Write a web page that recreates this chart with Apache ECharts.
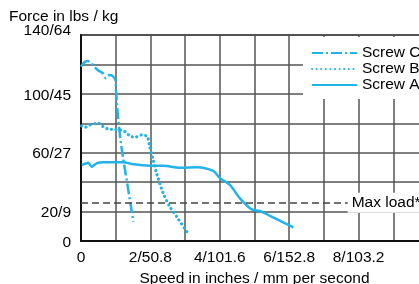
<!DOCTYPE html>
<html><head><meta charset="utf-8">
<script src="https://cdn.jsdelivr.net/npm/echarts@6/dist/echarts.min.js"></script>
<style>html,body{margin:0;padding:0;background:#fff}#c{width:419px;height:284px}</style>
</head><body><div id="c"></div>
<script>
// Data (speed in inches/s, force in lbs)
const screwA = [[0.02,51.7],[0.16,52.8],[0.21,53.2],[0.31,50.5],[0.45,52.8],[0.64,53.5],[1.22,53.5],[1.51,52.1],[1.99,51.2],[2.37,51.2],[2.85,49.8],[3.33,50.1],[3.81,47.6],[4.01,42.6],[4.29,38.1],[4.58,29.0],[4.92,21.5],[5.16,20.4],[5.45,17.0],[6.12,9.3]];
const screwB = [[0.02,78.2],[0.12,77.3],[0.26,78.9],[0.5,80.0],[0.64,77.7],[0.79,76.1],[0.93,75.9],[1.12,75.5],[1.27,74.3],[1.41,71.4],[1.56,70.5],[1.75,72.1],[1.91,70.9],[1.97,65.3],[2.08,55.1],[2.18,46.0],[2.37,32.4],[2.56,23.3],[2.76,16.5],[3.05,6.3]];
const screwC = [[0.0,118.5],[0.1,121.5],[0.19,122.4],[0.29,120.8],[0.38,118.5],[0.48,116.2],[0.63,114.0],[0.72,110.6],[0.82,112.8],[0.91,112.2],[0.99,109.4],[1.01,101.5],[1.08,81.1],[1.17,63.2],[1.34,38.0],[1.51,13.1]];
const maxLoad = 26;
const maxLoadLabelX = 7.8;
const xTickLabels = {0:'0',2:'2/50.8',4:'4/101.6',6:'6/152.8',8:'8/103.2'};
const yTickLabels = {0:'0',20:'20/9',60:'60/27',100:'100/45',140:'140/64'};
const seriesNames = ['Screw C','Screw B','Screw A'];

const FONT = 'Liberation Sans';
const BLUE = '#22b3e8';
const TXT = '#000';
const chart = echarts.init(document.getElementById('c'), null, {renderer:'canvas'});
const base = {type:'line', symbol:'none', smooth:0.3, color:BLUE, z:3};
chart.setOption({
  animation:false,
  textStyle:{fontFamily:FONT},
  title:{text:'Force in lbs / kg', left:9, top:9, padding:0,
    textStyle:{fontFamily:FONT, fontSize:15.5, fontWeight:'normal', color:TXT}},
  legend:{data:seriesNames, orient:'vertical', left:303, top:37, padding:[8,30,6,8],
    backgroundColor:'#fff', itemWidth:45, itemHeight:14, itemGap:0, z:10,
    itemStyle:{opacity:0, borderWidth:0},
    textStyle:{fontFamily:FONT, fontSize:15.5, color:TXT, lineHeight:15}},
  grid:{left:81, top:35, bottom:43, right:-9, containLabel:false, outerBoundsMode:'none',
    show:true, borderColor:'#111', borderWidth:1.5},
  xAxis:{type:'value', min:0, max:10, interval:1,
    name:'Speed in inches / mm per second', nameLocation:'middle', nameGap:25,
    nameTextStyle:{fontFamily:FONT, fontSize:15.5, color:TXT},
    axisLine:{lineStyle:{color:'#111', width:2}}, axisTick:{show:false},
    axisLabel:{margin:9, fontFamily:FONT, fontSize:15.5, color:TXT,
      formatter:v=>xTickLabels[v]||''},
    splitLine:{lineStyle:{color:'#555', width:1.5}}},
  yAxis:{type:'value', min:0, max:140, interval:20,
    axisLine:{show:true, lineStyle:{color:'#111', width:2}}, axisTick:{show:false},
    axisLabel:{margin:10, fontFamily:FONT, fontSize:15.5, color:TXT,
      formatter:v=> v===140 ? '{t|'+yTickLabels[v]+'}' : '{n|'+(yTickLabels[v]||'')+'}',
      rich:{t:{fontFamily:FONT, fontSize:15.5, color:TXT, padding:[0,0,8,0]},
            n:{fontFamily:FONT, fontSize:15.5, color:TXT, padding:[3,0,0,0]}}},
    splitLine:{lineStyle:{color:'#555', width:1.5}}},
  series:[
    Object.assign({}, base, {name:'Screw A', data:screwA, lineStyle:{width:2.5, color:BLUE},
      markLine:{silent:true, symbol:'none', label:{show:false},
        lineStyle:{color:'#444', width:1.5, type:[7,4]}, data:[{yAxis:maxLoad}]}}),
    Object.assign({}, base, {name:'Screw B', data:screwB, lineStyle:{width:3.2, color:BLUE, type:[0.1,4.5], cap:'round'}}),
    Object.assign({}, base, {name:'Screw C', data:screwC, lineStyle:{width:2.5, color:BLUE, type:[11,3,2,3]}})
  ]
});
const p = chart.convertToPixel({gridIndex:0}, [maxLoadLabelX, maxLoad]);
chart.setOption({graphic:[{type:'text', left:p[0]-4, top:p[1]-10, z:20,
  style:{text:'Max load*', font:'15.5px "Liberation Sans"', fill:TXT,
    backgroundColor:'#fff', padding:[2,10,2,4]}}]});
</script></body></html>
